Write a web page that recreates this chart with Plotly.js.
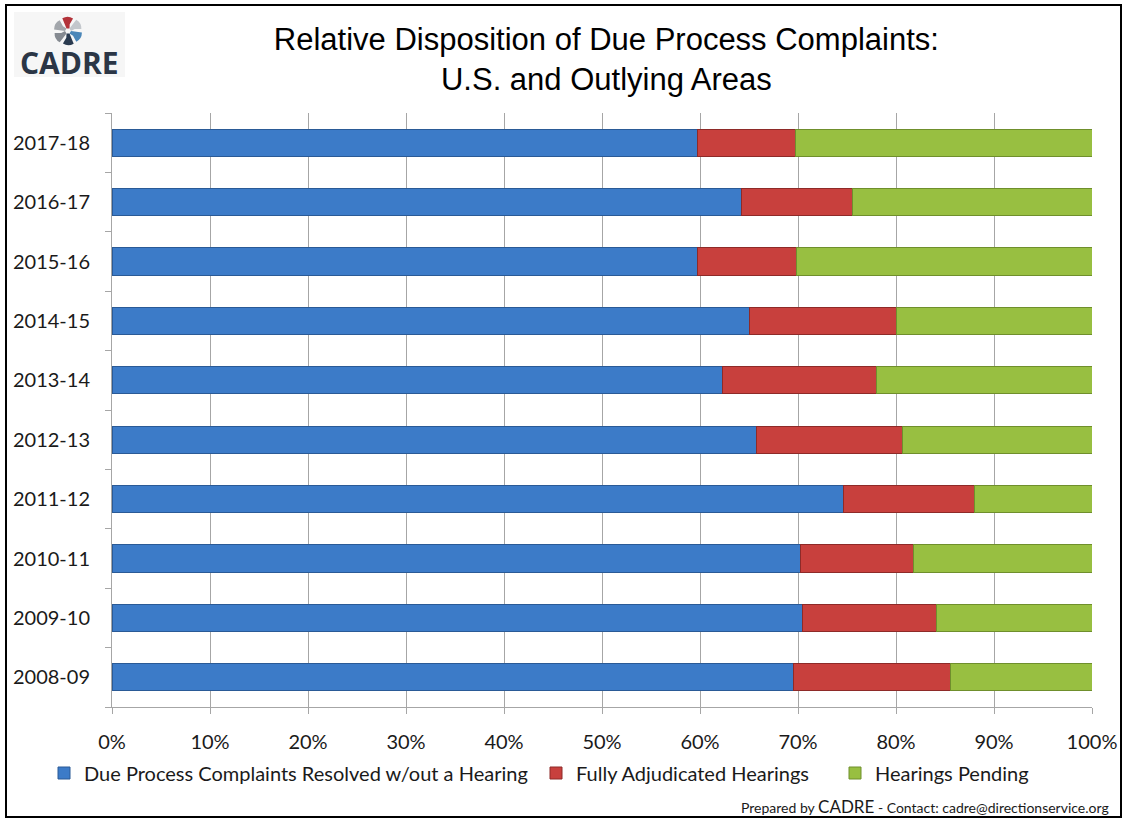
<!DOCTYPE html>
<html>
<head>
<meta charset="utf-8">
<script src="https://cdn.plot.ly/plotly-3.0.1.min.js"></script>
<style>html,body{margin:0;padding:0;background:#fff;}#chart{width:1125px;height:821px;}</style>
</head>
<body>
<div id="chart"></div>
<script>
// ---- data (percent of due process complaints) ----
var years = ['2008-09','2009-10','2010-11','2011-12','2012-13','2013-14','2014-15','2015-16','2016-17','2017-18'];
var resolvedNoHearing = [69.5, 70.5, 70.3, 74.6, 65.8, 62.3, 65.0, 59.7, 64.2, 59.7];
var fullyAdjudicated  = [16.1, 13.6, 11.5, 13.4, 14.9, 15.7, 15.0, 10.1, 11.4, 10.0];
var hearingsPending   = [14.4, 15.9, 18.2, 12.0, 19.3, 22.0, 20.0, 30.2, 24.4, 30.3];
var seriesNames = ['Due Process Complaints Resolved w/out a Hearing', 'Fully Adjudicated Hearings', 'Hearings Pending'];
var xTickVals = [0,10,20,30,40,50,60,70,80,90,100];

// ---- layout helpers (pixel -> paper) ----
var L = 112, R = 1092, T = 113, B = 707;
function px(x){ return (x - L) / (R - L); }
function py(y){ return (B - y) / (B - T); }

var font = 'Lato, "Open Sans", sans-serif';
var barW = 0.46;

function mk(vals, name, color, lineColor, legendId){
  return {
    type: 'bar', orientation: 'h', y: years, x: vals, name: name,
    width: barW, legend: legendId,
    marker: {color: color, line: {color: lineColor, width: 1}},
    hoverinfo: 'y+x+name'
  };
}
var traces = [
  mk(resolvedNoHearing, seriesNames[0], '#3c7bc8', '#2a5a96', 'legend'),
  mk(fullyAdjudicated,  seriesNames[1], '#c8403d', '#8e2a28', 'legend2'),
  mk(hearingsPending,   seriesNames[2], '#98bf41', '#6f8f2c', 'legend3')
];

// ---- logo pinwheel ----
var shapes = [];
shapes.push({type:'rect', xref:'paper', yref:'paper', x0:px(14), x1:px(125), y0:py(77), y1:py(12),
  fillcolor:'#f6f6f6', line:{width:0}, layer:'below'});
var cx = 68, cy = 31;
var bladeColors = ['#b3333a', '#c3c7cc', '#4a86b8', '#2a3b50', '#858a91', '#a2a6ab'];
function pt(r, a){ var t = a*Math.PI/180; return [cx + r*Math.cos(t), cy + r*Math.sin(t)]; }
function P(p){ return px(p[0]).toFixed(5) + ',' + py(p[1]).toFixed(5); }
for (var k = 0; k < 6; k++){
  var a = -120 + k*60;
  var p1 = pt(3, a), p2 = pt(14, a+6), p3 = pt(13.5, a+52), p4 = pt(7, a+44), p5 = pt(3, a+60);
  shapes.push({type:'path', xref:'paper', yref:'paper',
    path: 'M' + P(p1) + ' L' + P(p2) + ' Q' + P(pt(16, a+30)) + ' ' + P(p3) + ' L' + P(p4) + ' L' + P(p5) + ' Z',
    fillcolor: bladeColors[k], line:{width:0}});
}
// outer frame
shapes.push({type:'rect', xref:'paper', yref:'paper', x0:px(6), x1:px(1121), y0:py(817), y1:py(5),
  line:{color:'#000', width:2}, fillcolor:'rgba(0,0,0,0)'});

var annotations = [
  {xref:'paper', yref:'paper', x:px(69), y:py(62), xanchor:'center', yanchor:'middle', showarrow:false,
   text:'<b>CADRE</b>', font:{family:'"Open Sans", sans-serif', size:30, color:'#2b3646'}},
  {xref:'paper', yref:'paper', x:px(1111), y:py(806), xanchor:'right', yanchor:'middle', showarrow:false,
   text:'Prepared by <span style="font-size:17px">CADRE</span> - Contact: cadre@directionservice.org',
   font:{family:font, size:14, color:'#1a1a1a'}}
];

function leg(xText){
  return {orientation:'h', x:px(xText - 40), xanchor:'left', y:py(773), yanchor:'middle',
    bgcolor:'rgba(0,0,0,0)', borderwidth:0, font:{family:font, size:20, color:'#1a1a1a'}};
}

var layout = {
  width:1125, height:821,
  margin:{l:L, r:1125-R, t:T, b:821-B},
  paper_bgcolor:'#fff', plot_bgcolor:'#fff',
  barmode:'stack',
  showlegend:true,
  title:{text:'Relative Disposition of Due Process Complaints:<br>U.S. and Outlying Areas',
    font:{family:'"Liberation Sans", Arial, sans-serif', size:31, color:'#000'},
    x:0.539, xanchor:'center', xref:'container', y:1-50/821, yanchor:'top', yref:'container'},
  xaxis:{range:[0,100], tickvals:xTickVals, ticktext:xTickVals.map(function(v){return v+'%';}),
    showgrid:true, gridcolor:'#a6a6a6', gridwidth:1, zeroline:false,
    showline:true, linecolor:'#a6a6a6', linewidth:1,
    ticks:'outside', ticklen:6, tickcolor:'#a6a6a6',
    ticklabelstandoff:11,
    tickfont:{family:font, size:20, color:'#1a1a1a'}, fixedrange:true},
  yaxis:{type:'category', categoryorder:'array', categoryarray:years,
    showgrid:false, zeroline:false, showline:true, linecolor:'#a6a6a6', linewidth:1,
    ticks:'outside', ticklen:6, tickcolor:'#a6a6a6', tickson:'boundaries',
    ticklabelstandoff:17,
    tickfont:{family:font, size:20, color:'#1a1a1a'}, fixedrange:true},
  legend: leg(84),
  legend2: leg(576),
  legend3: leg(875),
  shapes: shapes,
  annotations: annotations
};

Plotly.newPlot('chart', traces, layout, {displayModeBar:false, staticPlot:false});
</script>
</body>
</html>
